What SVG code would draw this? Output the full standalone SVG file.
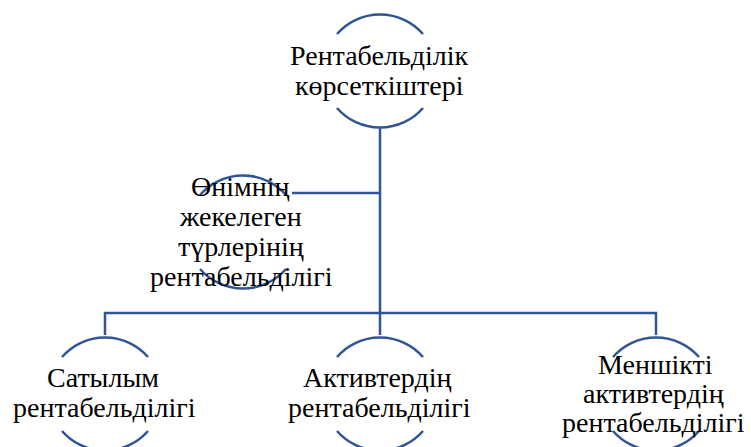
<svg xmlns="http://www.w3.org/2000/svg" width="751" height="447" viewBox="0 0 751 447">
<rect width="751" height="447" fill="#fff"/>
<g id="connectors" fill="none" stroke="#2F5597" stroke-width="2.5">
<path d="M380,128 V313"/>
<path d="M380,193 H292"/>
<path d="M105,335 V313 H656 V335"/>
<path d="M380,313 V335"/>
</g>
<g id="node-top">
<g fill="none" stroke="#2F5597" stroke-width="2.5">
<path d="M337,34 A57,57 0 0 1 423,34"/>
<path d="M337,108 A57,57 0 0 0 423,108"/>
</g>
<text x="290" y="65" font-family="Liberation Serif" font-size="28">Рентабельділік</text>
<text x="295" y="95" font-family="Liberation Serif" font-size="28">көрсеткіштері</text>
</g>
<g id="node-left">
<g fill="none" stroke="#2F5597" stroke-width="2.5">
<path d="M200,195 A57,57 0 0 1 286,195"/>
<path d="M200,269 A57,57 0 0 0 286,269"/>
</g>
<text x="191" y="196" font-family="Liberation Serif" font-size="28">Өнімнің</text>
<text x="180" y="226" font-family="Liberation Serif" font-size="28">жекелеген</text>
<text x="178" y="256" font-family="Liberation Serif" font-size="28">түрлерінің</text>
<text x="150" y="286" font-family="Liberation Serif" font-size="28">рентабельділігі</text>
</g>
<g id="node-b1">
<g fill="none" stroke="#2F5597" stroke-width="2.5">
<path d="M62,357 A57,57 0 0 1 148,357"/>
<path d="M62,431 A57,57 0 0 0 148,431"/>
</g>
<text x="47" y="387" font-family="Liberation Serif" font-size="28">Сатылым</text>
<text x="13" y="417" font-family="Liberation Serif" font-size="28">рентабельділігі</text>
</g>
<g id="node-b2">
<g fill="none" stroke="#2F5597" stroke-width="2.5">
<path d="M337,357 A57,57 0 0 1 423,357"/>
<path d="M337,431 A57,57 0 0 0 423,431"/>
</g>
<text x="303" y="387" font-family="Liberation Serif" font-size="28">Активтердің</text>
<text x="288" y="417" font-family="Liberation Serif" font-size="28">рентабельділігі</text>
</g>
<g id="node-b3">
<g fill="none" stroke="#2F5597" stroke-width="2.5">
<path d="M613,357 A57,57 0 0 1 699,357"/>
<path d="M613,431 A57,57 0 0 0 699,431"/>
</g>
<text x="598" y="374" font-family="Liberation Serif" font-size="28">Меншікті</text>
<text x="583" y="403" font-family="Liberation Serif" font-size="28">активтердің</text>
<text x="562" y="432" font-family="Liberation Serif" font-size="28">рентабельділігі</text>
</g>
</svg>
